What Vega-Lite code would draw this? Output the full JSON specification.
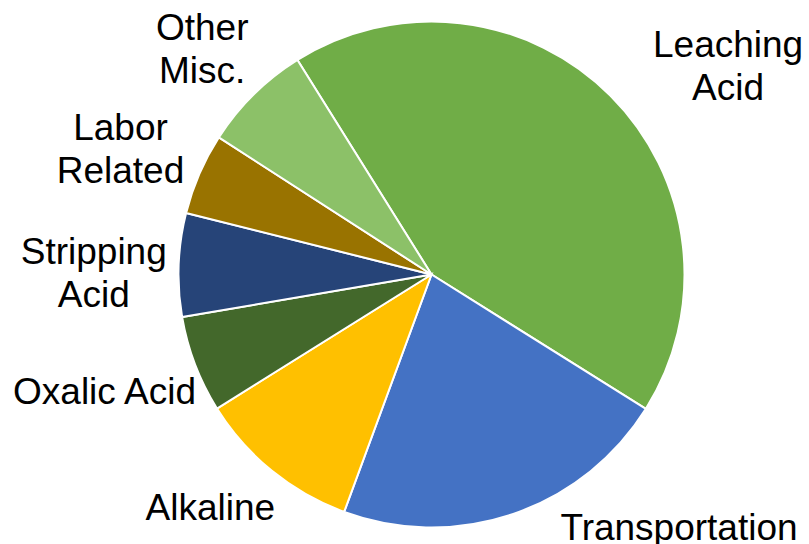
{
  "$schema": "https://vega.github.io/schema/vega-lite/v6.json",
  "width": 755,
  "height": 539,
  "autosize": "none",
  "padding": {"left": 54, "top": 5, "right": 0, "bottom": 0},
  "background": "white",
  "config": {"view": {"stroke": null}},
  "data": {
    "values": [
      {"cost": "Leaching Acid", "label": "Leaching\nAcid", "share": 42.8, "rank": 1},
      {"cost": "Transportation", "label": "Transportation", "share": 21.7, "rank": 2},
      {"cost": "Alkaline", "label": "Alkaline", "share": 10.5, "rank": 3},
      {"cost": "Oxalic Acid", "label": "Oxalic Acid", "share": 6.2, "rank": 4},
      {"cost": "Stripping Acid", "label": "Stripping\nAcid", "share": 6.6, "rank": 5},
      {"cost": "Labor Related", "label": "Labor\nRelated", "share": 5.2, "rank": 6},
      {"cost": "Other Misc.", "label": "Other\nMisc.", "share": 7.0, "rank": 7}
    ]
  },
  "encoding": {
    "theta": {"field": "share", "type": "quantitative", "stack": true, "scale": {"range": [5.72468, 12.00787]}},
    "order": {"field": "rank", "type": "quantitative"},
    "detail": {"field": "cost", "type": "nominal"}
  },
  "layer": [
    {
      "mark": {"type": "arc", "radius": 253, "stroke": "white", "strokeWidth": 2},
      "encoding": {
        "color": {
          "field": "cost",
          "type": "nominal",
          "legend": null,
          "scale": {
            "domain": ["Leaching Acid", "Transportation", "Alkaline", "Oxalic Acid", "Stripping Acid", "Labor Related", "Other Misc."],
            "range": ["#70AD47", "#4472C4", "#FFC000", "#43682B", "#264478", "#997300", "#8CC168"]
          }
        }
      }
    },
    {
      "mark": {"type": "text", "radius": 364, "dx": 39, "dy": 39.5, "align": "center", "baseline": "alphabetic", "font": "Liberation Sans", "fontSize": 37, "lineHeight": 43.5, "lineBreak": "\n", "color": "black"},
      "encoding": {"text": {"condition": {"test": "datum.rank === 1", "field": "label"}, "value": ""}}
    },
    {
      "mark": {"type": "text", "radius": 331, "dx": 140.5, "dy": -48, "align": "center", "baseline": "alphabetic", "font": "Liberation Sans", "fontSize": 37, "lineHeight": 43.5, "lineBreak": "\n", "color": "black"},
      "encoding": {"text": {"condition": {"test": "datum.rank === 2", "field": "label"}, "value": ""}}
    },
    {
      "mark": {"type": "text", "radius": 330, "dx": -13, "dy": -11, "align": "center", "baseline": "alphabetic", "font": "Liberation Sans", "fontSize": 37, "lineHeight": 43.5, "lineBreak": "\n", "color": "black"},
      "encoding": {"text": {"condition": {"test": "datum.rank === 3", "field": "label"}, "value": ""}}
    },
    {
      "mark": {"type": "text", "radius": 352, "dx": 2, "dy": 4, "align": "center", "baseline": "alphabetic", "font": "Liberation Sans", "fontSize": 37, "lineHeight": 43.5, "lineBreak": "\n", "color": "black"},
      "encoding": {"text": {"condition": {"test": "datum.rank === 4", "field": "label"}, "value": ""}}
    },
    {
      "mark": {"type": "text", "radius": 338, "dx": 0, "dy": 2, "align": "center", "baseline": "alphabetic", "font": "Liberation Sans", "fontSize": 37, "lineHeight": 43.5, "lineBreak": "\n", "color": "black"},
      "encoding": {"text": {"condition": {"test": "datum.rank === 5", "field": "label"}, "value": ""}}
    },
    {
      "mark": {"type": "text", "radius": 339, "dx": 0, "dy": 0, "align": "center", "baseline": "alphabetic", "font": "Liberation Sans", "fontSize": 37, "lineHeight": 43.5, "lineBreak": "\n", "color": "black"},
      "encoding": {"text": {"condition": {"test": "datum.rank === 6", "field": "label"}, "value": ""}}
    },
    {
      "mark": {"type": "text", "radius": 328, "dx": 1, "dy": -1, "align": "center", "baseline": "alphabetic", "font": "Liberation Sans", "fontSize": 37, "lineHeight": 43.5, "lineBreak": "\n", "color": "black"},
      "encoding": {"text": {"condition": {"test": "datum.rank === 7", "field": "label"}, "value": ""}}
    }
  ]
}
